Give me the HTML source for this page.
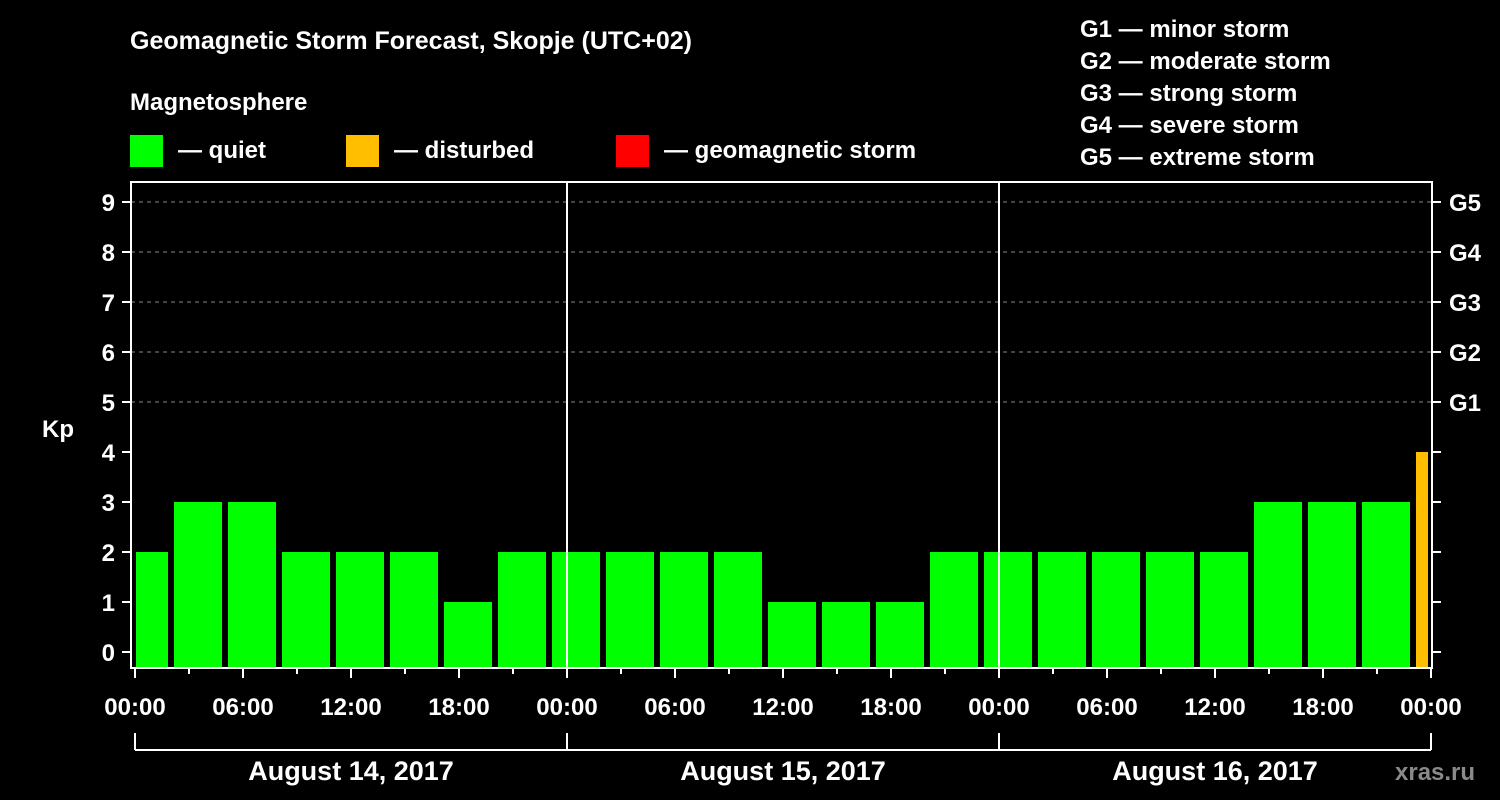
<!DOCTYPE html>
<html><head><meta charset="utf-8"><style>
html,body{margin:0;padding:0;background:#000;}
svg{display:block;}
text{font-family:"Liberation Sans",Arial,sans-serif;font-weight:bold;fill:#fff;}
</style></head><body>
<svg id="chart" width="1500" height="800" viewBox="0 0 1500 800">
<rect width="1500" height="800" fill="#000"/>
<text x="130" y="49" font-size="25">Geomagnetic Storm Forecast, Skopje (UTC+02)</text>
<text x="130" y="110" font-size="24">Magnetosphere</text>
<g><rect x="130" y="135" width="33" height="32" fill="#00ff00"/><text x="178" y="158" font-size="24">— quiet</text></g>
<g><rect x="346" y="135" width="33" height="32" fill="#ffbf00"/><text x="394" y="158" font-size="24">— disturbed</text></g>
<g><rect x="616" y="135" width="33" height="32" fill="#ff0000"/><text x="664" y="158" font-size="24">— geomagnetic storm</text></g>
<g font-size="24">
<text x="1080" y="37">G1 — minor storm</text>
<text x="1080" y="69">G2 — moderate storm</text>
<text x="1080" y="101">G3 — strong storm</text>
<text x="1080" y="133">G4 — severe storm</text>
<text x="1080" y="165">G5 — extreme storm</text>
</g>
<text x="42" y="437" font-size="24">Kp</text>
<g id="plot"></g>
<text x="1395" y="780" font-size="24" fill="#888" style="fill:#8a8a8a" font-weight="normal">xras.ru</text>
</svg>
<script>
const kpValues=[2,3,3,2,2,2,1,2, 2,2,2,2,1,1,1,2, 2,2,2,2,2,3,3,3, 4];
const dayLabels=["August 14, 2017","August 15, 2017","August 16, 2017"];
const yTicks=[0,1,2,3,4,5,6,7,8,9];
const gLabels=["G1","G2","G3","G4","G5"];
const hourLabels=["00:00","06:00","12:00","18:00"];

const NS="http://www.w3.org/2000/svg";
const g=document.getElementById('plot');
const L=131,R=1432,T=182,B=668,X0=135,DAY=432;
const y=v=>652-50*v;
const x=h=>X0+h*DAY/24;
function mk(t,a,p){const e=document.createElementNS(NS,t);for(const k in a)e.setAttribute(k,a[k]);(p||g).appendChild(e);return e;}
// gridlines 5..9
yTicks.filter(v=>v>=5).forEach(v=>{
 const l=mk('line',{x1:L,x2:R,y1:y(v),y2:y(v),stroke:'#888','stroke-width':1,'stroke-dasharray':'4,4'});
 
 
});
// bars
kpValues.forEach((v,i)=>{
 let cx=x(i*3+0.5), x1=Math.max(cx-24,L+5), x2=Math.min(cx+24,R-4);
 const col=v>=5?'#ff0000':(v>=4?'#ffbf00':'#00ff00');
 const r=mk('rect',{x:x1,y:y(v),width:x2-x1,height:B-y(v),fill:col});
 
 
});
// day separators
[1,2].forEach(d=>{mk('line',{x1:x(d*24),x2:x(d*24),y1:T,y2:B,stroke:'#fff','stroke-width':2});});
// frame
const fr=mk('rect',{x:L,y:T,width:R-L,height:B-T,fill:'none',stroke:'#fff','stroke-width':2});


// y ticks
yTicks.forEach(v=>{
 mk('line',{x1:L-9,x2:L,y1:y(v),y2:y(v),stroke:'#fff','stroke-width':2});
 mk('line',{x1:R,x2:R+9,y1:y(v),y2:y(v),stroke:'#fff','stroke-width':2});
 const t=mk('text',{x:L-16,y:y(v)+9,'font-size':24,'text-anchor':'end'});t.textContent=v;
 
 
});
gLabels.forEach((s,i)=>{
 const t=mk('text',{x:1449,y:y(5+i)+9,'font-size':24});t.textContent=s;
 
 
});
// x ticks
for(let h=0;h<=72;h+=3){
 const major=h%6===0;
 mk('line',{x1:x(h),x2:x(h),y1:B,y2:B+(major?10:6),stroke:'#fff','stroke-width':2});
 if(major){const t=mk('text',{x:x(h),y:715,'font-size':24,'text-anchor':'middle'});t.textContent=hourLabels[(h/6)%4];
 
 }
}
// day bracket
mk('line',{x1:x(0),x2:x(72),y1:750,y2:750,stroke:'#fff','stroke-width':2});
for(let d=0;d<=3;d++)mk('line',{x1:x(d*24),x2:x(d*24),y1:733,y2:750,stroke:'#fff','stroke-width':2});
dayLabels.forEach((s,d)=>{
 const t=mk('text',{x:x(d*24+12),y:780,'font-size':27,'text-anchor':'middle'});t.textContent=s;
 
 
});
</script>
</body></html>
